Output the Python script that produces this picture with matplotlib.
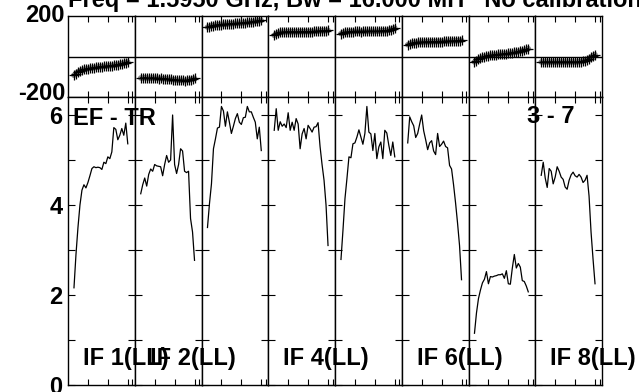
import numpy as np
import matplotlib
matplotlib.use("Agg")
import matplotlib.pyplot as plt

plt.rcParams['font.family'] = ['Liberation Sans', 'DejaVu Sans']
plt.rcParams['font.weight'] = 'bold'

chans = list(range(3, 31))
if_labels = ["IF 1(LL)", "IF 2(LL)", "", "IF 4(LL)", "", "IF 6(LL)", "", "IF 8(LL)"]

amp1 = [2.16, 2.9, 3.5, 4.0, 4.33, 4.45, 4.38, 4.5, 4.65, 4.81, 4.85, 4.83, 4.84, 4.83,
        4.79, 4.95, 4.92, 5.07, 5.03, 5.18, 5.72, 5.68, 5.45, 5.55, 5.70, 5.55, 5.82, 5.36]
amp2 = [4.25, 4.45, 4.6, 4.42, 4.68, 4.8, 4.75, 4.9, 4.87, 4.86, 4.85, 4.65, 4.9, 5.1,
        4.95, 5.0, 6.0, 4.9, 4.7, 4.9, 5.25, 5.2, 4.75, 4.72, 4.75, 3.7, 3.4, 2.77]
amp3 = [3.5, 4.03, 4.47, 5.25, 5.47, 5.71, 5.73, 6.19, 6.09, 5.75, 6.07, 5.84, 5.59, 5.75,
        5.92, 6.03, 5.84, 5.79, 5.94, 5.95, 6.19, 6.07, 6.07, 5.95, 5.84, 5.47, 5.73, 5.21]
amp4 = [5.66, 6.14, 5.66, 5.85, 5.75, 5.8, 5.72, 6.05, 5.66, 5.84, 5.66, 5.92, 5.8, 5.25,
        5.58, 5.7, 5.47, 5.77, 5.7, 5.62, 5.73, 5.74, 5.83, 5.3, 4.9, 4.55, 4.0, 3.1]
amp5 = [2.79, 3.44, 4.14, 4.59, 5.07, 5.05, 5.36, 5.38, 5.51, 5.67, 5.51, 5.35, 5.59, 6.19,
        5.62, 5.58, 5.21, 5.59, 5.03, 5.29, 5.4, 5.03, 5.66, 5.6, 5.33, 5.1, 5.4, 5.07]
amp6 = [5.38, 5.96, 5.85, 5.76, 5.5, 5.59, 5.8, 6.0, 5.65, 5.45, 5.23, 5.38, 5.43, 5.2,
        5.12, 5.59, 5.3, 5.35, 5.42, 5.3, 5.27, 4.88, 4.8, 4.45, 4.05, 3.6, 3.1, 2.34]
amp7 = [1.15, 1.6, 1.92, 2.11, 2.27, 2.35, 2.52, 2.25, 2.41, 2.4, 2.42, 2.43, 2.45, 2.45,
        2.47, 2.37, 2.54, 2.25, 2.24, 2.6, 2.9, 2.6, 2.7, 2.62, 2.32, 2.3, 2.2, 2.07]
amp8 = [4.66, 4.95, 4.6, 4.39, 4.81, 4.75, 4.47, 4.62, 4.85, 4.75, 4.62, 4.57, 4.4, 4.35,
        4.55, 4.67, 4.73, 4.65, 4.62, 4.68, 4.62, 4.5, 4.55, 4.66, 4.2, 3.4, 2.8, 2.25]

ph1 = [-93, -84, -76, -71, -67, -64, -62, -60, -58, -57, -55, -54, -52, -51,
       -50, -49, -48, -47, -46, -45, -43, -41, -40, -38, -36, -33, -30, -27]
ph2 = [-106, -107, -105, -106, -108, -107, -106, -108, -107, -109, -108, -110, -109, -111,
       -112, -113, -114, -115, -116, -118, -117, -118, -119, -118, -116, -114, -112, -108]
ph3 = [145, 148, 151, 153, 155, 156, 157, 158, 159, 159, 160, 161, 162, 162,
       163, 164, 164, 165, 166, 167, 168, 169, 170, 172, 174, 175, 177, 178]
ph4 = [104, 112, 117, 119, 120, 121, 121, 122, 121, 122, 122, 121, 122, 122,
       123, 122, 123, 123, 122, 123, 124, 124, 125, 126, 127, 126, 128, 129]
ph5 = [113, 117, 120, 121, 122, 123, 123, 124, 124, 124, 123, 124, 124, 124,
       124, 125, 124, 124, 125, 125, 126, 127, 127, 128, 130, 133, 137, 141]
ph6 = [58, 62, 66, 68, 69, 70, 70, 71, 71, 72, 72, 72, 73, 73,
       73, 74, 74, 74, 75, 75, 75, 76, 76, 77, 77, 78, 79, 80]
ph7 = [-27, -20, -13, -8, -4, -1, 2, 4, 6, 7, 8, 9, 10, 11,
       12, 13, 14, 15, 16, 18, 20, 22, 24, 26, 28, 31, 35, 39]
ph8 = [-27, -28, -27, -27, -28, -27, -27, -28, -27, -27, -28, -27, -27, -28,
       -27, -27, -27, -28, -27, -26, -25, -23, -20, -16, -10, -4, 3, 9]

amps = [amp1, amp2, amp3, amp4, amp5, amp6, amp7, amp8]
phases = [ph1, ph2, ph3, ph4, ph5, ph6, ph7, ph8]

fig = plt.figure(figsize=(6.39, 3.92), dpi=100)
gs = fig.add_gridspec(2, 8, left=68/639, right=602/639, top=1-16/392, bottom=1-385/392,
                      height_ratios=[81, 288], wspace=0, hspace=0)

fs = 17
for i in range(8):
    axp = fig.add_subplot(gs[0, i])
    axa = fig.add_subplot(gs[1, i])

    axp.plot(chans, phases[i], color='0.55', lw=4, solid_capstyle='round')
    axp.plot(chans, phases[i], color='k', lw=1, marker='+', ms=7, mew=0.9)
    axp.axhline(0, color='k', lw=1)
    axp.set_ylim(-200, 200)
    axp.set_yticks([])

    axa.plot(chans, amps[i], color='k', lw=0.9)
    axa.set_ylim(0, 6.4)
    axa.set_yticks(range(7))

    for ax in (axp, axa):
        ax.set_xlim(0, 33.5)
        ax.set_xticks([10, 20, 30, 32.3])
        ax.tick_params(axis='x', direction='in', length=4, width=0.8, top=True,
                       bottom=True, labelbottom=False)
        ax.tick_params(axis='y', direction='in', length=5, width=0.8, left=True,
                       right=True, labelleft=False)
        for s in ax.spines.values():
            s.set_linewidth(1)

    # texts belong to the figure so no later panel hides them
    if i == 0:
        axa.set_yticklabels(['0', '', '2', '', '4', '', '6'])
        axa.tick_params(axis='y', labelleft=True, labelsize=fs, pad=4)
        fig.text(2.5, 5.78, "EF - TR", fontsize=fs, fontweight='bold', va='baseline',
                 transform=axa.transData)
        fig.text(-1.5, 200, "200", fontsize=fs, fontweight='bold', ha='right', va='center',
                 transform=axp.transData)
        fig.text(-1.5, -185, "-200", fontsize=fs, fontweight='bold', ha='right', va='center',
                 transform=axp.transData)
    if if_labels[i]:
        fig.text(7.5, 0.44, if_labels[i], fontsize=fs, fontweight='bold', va='baseline',
                 transform=axa.transData)
    if i == 6:
        fig.text(29.5, 5.82, "3 - 7", fontsize=fs, fontweight='bold', va='baseline',
                 transform=axa.transData)

fig.text(68/639, 1-7/392, "Freq = 1.5950 GHz, Bw = 16.000 MH   No calibration",
         fontsize=17, fontweight='bold', va='baseline', ha='left')

fig.savefig("out.png", dpi=100)
